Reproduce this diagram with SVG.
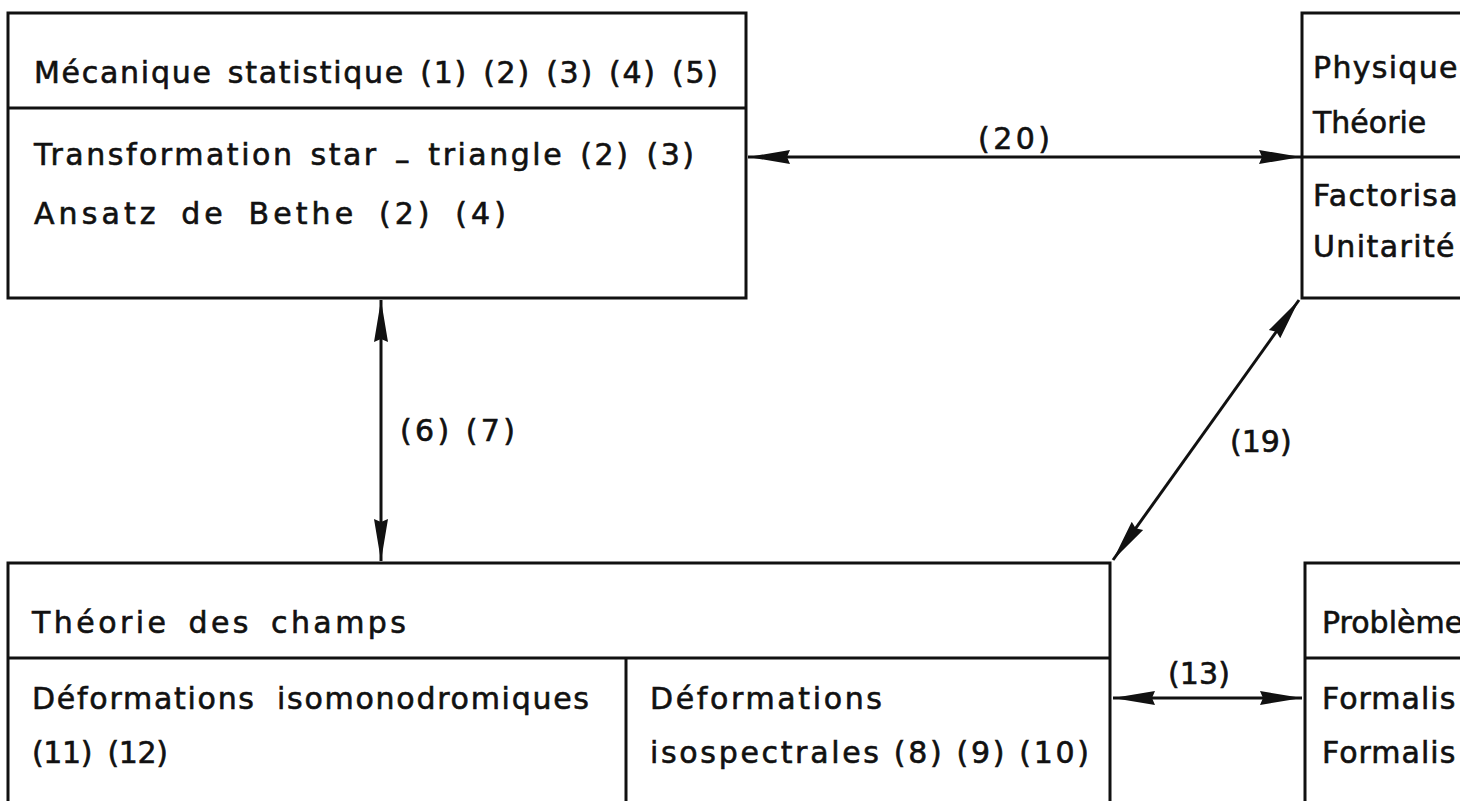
<svg xmlns="http://www.w3.org/2000/svg" width="1460" height="801" viewBox="0 0 1460 801">
  <style>
    .box { fill: none; stroke: #111; stroke-width: 3; }
    .div { stroke: #111; stroke-width: 3; }
    .t { font-family: "DejaVu Sans", "Liberation Sans", sans-serif; font-size: 30px; fill: #111; stroke: #111; stroke-width: 0.6; }
    .c { stroke: #111; stroke-width: 3; fill: none; marker-start: url(#ah); marker-end: url(#ah); }
  </style>
  <defs>
    <marker id="ah" markerUnits="userSpaceOnUse" viewBox="0 0 42 16" refX="42" refY="8" markerWidth="42" markerHeight="16" orient="auto-start-reverse">
      <path d="M0,1 L42,8 L0,15 L3,8 z" fill="#111"/>
    </marker>
  </defs>
  <rect width="1460" height="801" fill="#fff"/>

  <g id="mecanique">
    <rect class="box" x="8" y="13" width="738" height="285"/>
    <line class="div" x1="8" y1="108" x2="746" y2="108"/>
    <text class="t" x="34" y="83" textLength="684" lengthAdjust="spacing" word-spacing="4">Mécanique  statistique (1) (2) (3) (4) (5)</text>
    <text class="t" x="34" y="165" textLength="660" lengthAdjust="spacing" word-spacing="4">Transformation  star <tspan dy="5">–</tspan><tspan dy="-5"> triangle (2) (3)</tspan></text>
    <text class="t" x="34" y="224" textLength="472" lengthAdjust="spacing" word-spacing="8">Ansatz  de Bethe (2) (4)</text>
  </g>

  <g id="physique">
    <rect class="box" x="1302" y="13" width="200" height="285"/>
    <line class="div" x1="1302" y1="157" x2="1470" y2="157"/>
    <text class="t" x="1313" y="78" letter-spacing="1.3">Physique</text>
    <text class="t" x="1313" y="133">Théorie</text>
    <text class="t" x="1313" y="206" letter-spacing="1.3">Factorisa</text>
    <text class="t" x="1313" y="257" letter-spacing="1.4">Unitarité</text>
  </g>

  <g id="champs">
    <rect class="box" x="8" y="563" width="1102" height="260"/>
    <line class="div" x1="8" y1="658" x2="1110" y2="658"/>
    <line class="div" x1="626" y1="658" x2="626" y2="810"/>
    <text class="t" x="32" y="633" textLength="374" lengthAdjust="spacing" word-spacing="6">Théorie  des  champs</text>
    <text class="t" x="32" y="709" textLength="557" lengthAdjust="spacing" word-spacing="10">Déformations  isomonodromiques</text>
    <text class="t" x="32" y="763" textLength="136" lengthAdjust="spacing" word-spacing="6">(11) (12)</text>
    <text class="t" x="650" y="709" textLength="232" lengthAdjust="spacing">Déformations</text>
    <text class="t" x="650" y="763" textLength="439" lengthAdjust="spacing">isospectrales (8) (9) (10)</text>
  </g>

  <g id="problemes">
    <rect class="box" x="1305" y="563" width="200" height="260"/>
    <line class="div" x1="1305" y1="658" x2="1470" y2="658"/>
    <text class="t" x="1322" y="633">Problème</text>
    <text class="t" x="1322" y="709" letter-spacing="1">Formalis</text>
    <text class="t" x="1322" y="763" letter-spacing="1">Formalis</text>
  </g>

  <g id="connectors">
    <line class="c" x1="748" y1="157" x2="1301" y2="157"/>
    <text class="t" x="978" y="149" textLength="72" lengthAdjust="spacing">(20)</text>
    <line class="c" x1="381" y1="300" x2="381" y2="561"/>
    <text class="t" x="400" y="441" textLength="115" lengthAdjust="spacing">(6) (7)</text>
    <line class="c" x1="1299" y1="300" x2="1113" y2="560"/>
    <text class="t" x="1230" y="452">(19)</text>
    <line class="c" x1="1113" y1="698" x2="1302" y2="698"/>
    <text class="t" x="1168" y="684" textLength="62" lengthAdjust="spacing">(13)</text>
  </g>
</svg>
